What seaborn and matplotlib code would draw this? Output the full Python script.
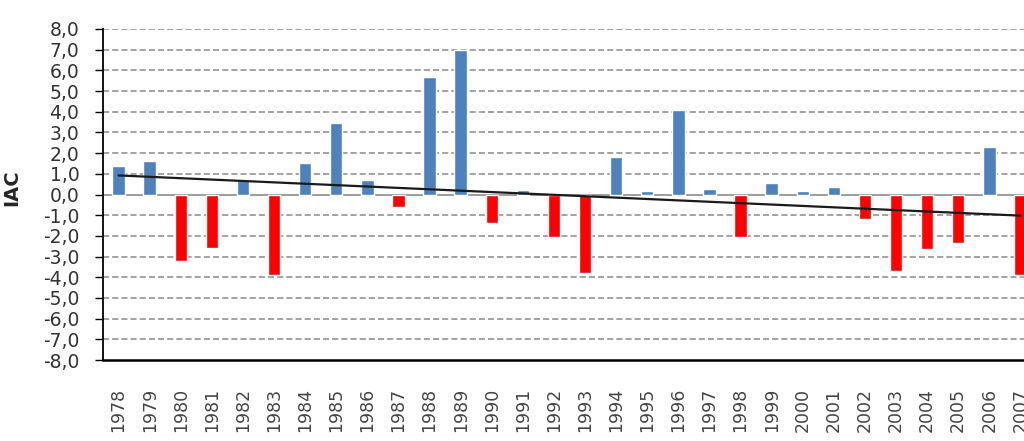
import numpy as np
import pandas as pd
import matplotlib
matplotlib.use("Agg")
import matplotlib.pyplot as plt
import seaborn as sns
from matplotlib.ticker import FixedLocator, FuncFormatter

years = [str(y) for y in range(1978, 2008)]
iac = [1.4, 1.6, -3.2, -2.6, 0.7, -3.9, 1.5, 3.45, 0.7, -0.6,
       5.7, 7.0, -1.4, 0.2, -2.05, -3.8, 1.8, 0.15, 4.1, 0.25,
       -2.05, 0.55, 0.15, 0.35, -1.2, -3.7, -2.65, -2.35, 2.3, -3.9]
y_ticks = list(range(-8, 9))
y_label = "IAC"

df = pd.DataFrame({"ano": years, "iac": iac})
df["sinal"] = np.where(df["iac"] >= 0, "pos", "neg")
palette = {"pos": "#4F81BD", "neg": "#FF0000"}

sns.set_theme(style="white")
plt.rcParams["font.family"] = ["DejaVu Sans"]

fig = plt.figure(figsize=(10.24, 4.41), dpi=100)
ax = fig.add_axes([103 / 1024, 1 - 360 / 441, 933 / 1024, 331 / 441])

sns.barplot(data=df, x="ano", y="iac", hue="sinal", palette=palette,
            dodge=False, width=0.4, legend=False, ax=ax, saturation=1)

# linear trend line (Excel-like)
sns.regplot(x=np.arange(len(iac)), y=np.array(iac), scatter=False, ci=None,
            color="#1a1a1a", line_kws={"linewidth": 1.6}, ax=ax, truncate=True)

ax.set_xlim(-0.5, len(years) - 0.5)
ax.set_ylim(-8, 8)
ax.yaxis.set_major_locator(FixedLocator(y_ticks))
ax.yaxis.set_major_formatter(FuncFormatter(lambda v, p: f"{v:.1f}".replace(".", ",")))

for v in y_ticks:
    if v == 0:
        ax.axhline(0, color="#8c8c8c", linewidth=1.2, zorder=0.5)
    elif v != -8:
        ax.axhline(v, color="#8a8a8a", linewidth=1.1, linestyle=(0, (4, 2)), zorder=0.5)

for s in ["top", "right"]:
    ax.spines[s].set_visible(False)
ax.spines["left"].set_color("black")
ax.spines["left"].set_linewidth(1.3)
ax.spines["bottom"].set_color("black")
ax.spines["bottom"].set_linewidth(1.8)

ax.tick_params(axis="y", left=True, length=6, width=1, color="black",
               labelsize=13.5, labelcolor="#333333", pad=11)
ax.tick_params(axis="x", bottom=False, labelsize=12.5, labelcolor="#444444",
               pad=14, rotation=90)
for lab in ax.get_xticklabels():
    lab.set_verticalalignment("top")

ax.set_xlabel("")
ax.set_ylabel(y_label, fontsize=14, fontweight="bold")
ax.yaxis.set_label_coords(21 / 933 * 0 + (21 - 103) / 933, (360 - 188) / 331)

fig.savefig("out.png", dpi=100)
